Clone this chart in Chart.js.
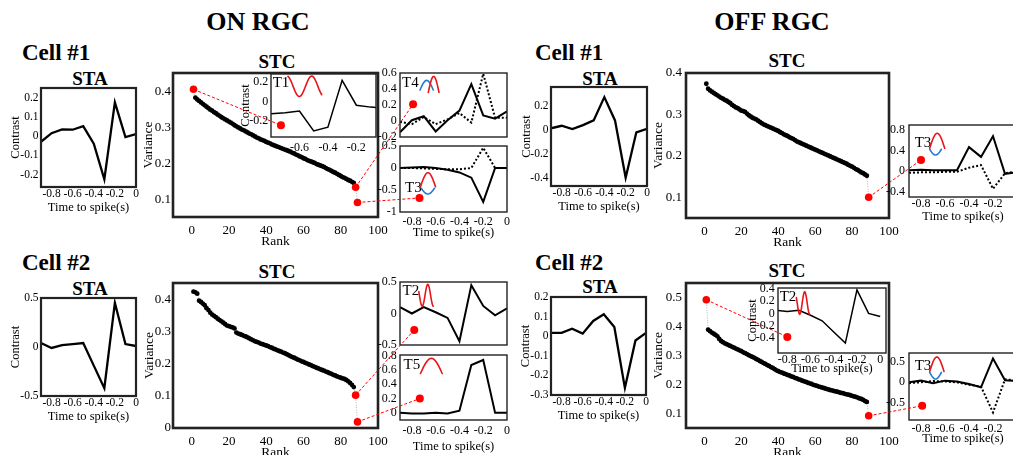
<!DOCTYPE html>
<html>
<head>
<meta charset="utf-8">
<script src="https://cdn.jsdelivr.net/npm/chart.js@4.4.1/dist/chart.umd.min.js"></script>
<style>
html, body { margin: 0; padding: 0; overflow: hidden; background: #fff; }
body { position: relative; width: 1013px; height: 455px; font-family: "Liberation Serif", "Times New Roman", serif; }
canvas { position: absolute; }
.lbl { position: absolute; transform: translate(-50%, -50%); line-height: 1; white-space: nowrap; color: #000; font-weight: bold; }
.lft { transform: translate(0, -50%); }
</style>
</head>
<body>
<div class="lbl" style="left:258px;top:22px;font-size:26px">ON RGC</div>
<div class="lbl" style="left:772px;top:22px;font-size:26px">OFF RGC</div>
<div class="lbl lft" style="left:22px;top:52px;font-size:23px">Cell #1</div>
<div class="lbl lft" style="left:535px;top:52px;font-size:23px">Cell #1</div>
<div class="lbl lft" style="left:22px;top:262px;font-size:23px">Cell #2</div>
<div class="lbl lft" style="left:535px;top:262px;font-size:23px">Cell #2</div>
<div class="lbl" style="left:90px;top:78px;font-size:19px">STA</div>
<div class="lbl" style="left:600px;top:78px;font-size:19px">STA</div>
<div class="lbl" style="left:90px;top:288px;font-size:19px">STA</div>
<div class="lbl" style="left:600px;top:286px;font-size:19px">STA</div>
<div class="lbl" style="left:277px;top:61px;font-size:19px">STC</div>
<div class="lbl" style="left:787px;top:60px;font-size:19px">STC</div>
<div class="lbl" style="left:277px;top:271px;font-size:19px">STC</div>
<div class="lbl" style="left:787px;top:270px;font-size:19px">STC</div>
<script>
// STA / STC figure for ON and OFF RGCs

const timeBins = [-0.9, -0.8, -0.7, -0.6, -0.5, -0.4, -0.3, -0.2, -0.1, 0]
const timeTicks = [-0.8, -0.6, -0.4, -0.2, 0]
const rankTicks = [0, 20, 40, 60, 80, 100]

// ON cell #1
const onCell1Sta = [-0.03, 0.015, 0.035, 0.033, 0.052, -0.04, -0.225, 0.175, -0.005, 0.01]
const onCell1FirstRank = 2
const onCell1Variance = [
  0.382, 0.377, 0.373, 0.369, 0.365, 0.361, 0.357, 0.353, 0.349, 0.346,
  0.342, 0.339, 0.335, 0.332, 0.328, 0.325, 0.322, 0.319, 0.316, 0.313,
  0.310, 0.306, 0.303, 0.300, 0.297, 0.294, 0.292, 0.289, 0.286, 0.283,
  0.281, 0.278, 0.275, 0.272, 0.270, 0.267, 0.265, 0.263, 0.260, 0.258,
  0.256, 0.253, 0.251, 0.249, 0.247, 0.245, 0.243, 0.241, 0.239, 0.237,
  0.235, 0.233, 0.230, 0.228, 0.225, 0.223, 0.220, 0.218, 0.215, 0.213,
  0.210, 0.208, 0.206, 0.204, 0.202, 0.199, 0.197, 0.195, 0.193, 0.191,
  0.188, 0.185, 0.183, 0.180, 0.177, 0.175, 0.172, 0.169, 0.166, 0.163,
  0.161, 0.158, 0.155, 0.153, 0.150, 0.147,
]
const onCell1RedRanks = [1, 88, 89]
const onCell1RedVariance = [0.405, 0.135, 0.093]
const t1Times = [-0.8, -0.7, -0.6, -0.5, -0.4, -0.3, -0.2, -0.1, 0]
const t1Values = [-0.13, -0.12, -0.10, -0.31, -0.27, 0.22, -0.04, -0.06, -0.07]
const t1Marker = [-0.73, -0.25]
const t4Solid = [-0.14, 0.01, 0.06, -0.13, 0.01, 0.13, 0.46, 0.07, 0.03, 0.12]
const t4Dotted = [-0.01, -0.04, 0.05, -0.04, 0.02, 0.10, -0.02, 0.59, 0.04, 0.04]
const t4Marker = [-0.79, 0.21]
const onT3Solid = [0.0, 0.01, 0.02, 0.0, -0.04, -0.1, -0.22, -0.77, 0.0, 0.0]
const onT3Dotted = [0.0, 0.0, -0.01, -0.02, -0.03, -0.03, 0.0, 0.46, 0.0, 0.0]
const onT3Marker = [-0.736, -0.68]

// OFF cell #1
const offCell1Sta = [0.014, 0.035, 0.008, 0.04, 0.08, 0.275, 0.08, -0.4, -0.02, 0.01]
const offCell1FirstRank = 1
const offCell1Variance = [
  0.374, 0.362, 0.358, 0.355, 0.352, 0.349, 0.346, 0.343, 0.340, 0.338,
  0.335, 0.333, 0.330, 0.327, 0.323, 0.320, 0.317, 0.315, 0.312, 0.309,
  0.308, 0.306, 0.302, 0.298, 0.295, 0.292, 0.290, 0.288, 0.285, 0.282,
  0.279, 0.276, 0.274, 0.272, 0.270, 0.268, 0.266, 0.264, 0.262, 0.260,
  0.257, 0.255, 0.252, 0.250, 0.248, 0.245, 0.243, 0.241, 0.238, 0.235,
  0.233, 0.231, 0.229, 0.227, 0.225, 0.223, 0.221, 0.219, 0.217, 0.215,
  0.213, 0.211, 0.209, 0.207, 0.205, 0.203, 0.201, 0.199, 0.197, 0.195,
  0.193, 0.191, 0.189, 0.187, 0.185, 0.183, 0.181, 0.178, 0.176, 0.174,
  0.171, 0.168, 0.166, 0.163, 0.160, 0.158, 0.155, 0.152,
]
const offCell1RedRanks = [89]
const offCell1RedVariance = [0.100]
const offT3aSolid = [0.02, 0.03, 0.02, 0.02, 0.02, 0.47, 0.28, 0.68, -0.05, -0.02]
const offT3aDotted = [-0.03, -0.02, -0.02, -0.01, -0.01, 0.07, 0.12, -0.34, -0.04, 0.0]
const offT3aMarker = [-0.8, 0.22]

// ON cell #2
const onCell2Sta = [0.04, -0.01, 0.02, 0.03, 0.04, -0.19, -0.42, 0.45, 0.03, 0.01]
const onCell2FirstRank = 1
const onCell2Variance = [
  0.423, 0.421, 0.417, 0.395, 0.391, 0.386, 0.381, 0.372, 0.366, 0.358,
  0.352, 0.348, 0.344, 0.339, 0.335, 0.331, 0.327, 0.322, 0.318, 0.316,
  0.314, 0.312, 0.309, 0.296, 0.293, 0.291, 0.289, 0.286, 0.284, 0.281,
  0.278, 0.275, 0.272, 0.269, 0.267, 0.265, 0.262, 0.260, 0.258, 0.256,
  0.254, 0.251, 0.249, 0.246, 0.244, 0.241, 0.239, 0.237, 0.234, 0.232,
  0.229, 0.226, 0.223, 0.220, 0.218, 0.215, 0.212, 0.210, 0.207, 0.205,
  0.202, 0.200, 0.197, 0.195, 0.192, 0.190, 0.187, 0.185, 0.182, 0.180,
  0.178, 0.175, 0.173, 0.170, 0.168, 0.165, 0.163, 0.160, 0.158, 0.156,
  0.154, 0.152, 0.149, 0.145, 0.140, 0.134, 0.127,
]
const onCell2RedRanks = [88, 89]
const onCell2RedVariance = [0.102, 0.019]
const t2Values = [0.1, 0.0, 0.1, 0.02, -0.07, -0.44, 0.45, 0.12, -0.03, 0.08]
const t2Marker = [-0.78, -0.26]
const t5Values = [0.0, -0.01, -0.01, 0.0, -0.01, 0.03, 0.67, 0.74, 0.0, 0.0]
const t5Marker = [-0.733, 0.2]

// OFF cell #2
const offCell2Sta = [0.017, 0.017, 0.038, 0.013, 0.078, 0.112, 0.047, -0.264, -0.022, 0.017]
const offCell2FirstRank = 2
const offCell2Variance = [
  0.389, 0.384, 0.379, 0.375, 0.371, 0.366, 0.357, 0.350, 0.346, 0.342,
  0.339, 0.336, 0.333, 0.330, 0.327, 0.324, 0.321, 0.318, 0.315, 0.311,
  0.308, 0.305, 0.301, 0.298, 0.295, 0.292, 0.288, 0.285, 0.281, 0.278,
  0.274, 0.271, 0.267, 0.264, 0.260, 0.257, 0.253, 0.249, 0.246, 0.243,
  0.241, 0.238, 0.236, 0.233, 0.231, 0.228, 0.226, 0.223, 0.221, 0.218,
  0.216, 0.213, 0.211, 0.209, 0.206, 0.204, 0.202, 0.199, 0.197, 0.195,
  0.193, 0.191, 0.189, 0.187, 0.185, 0.183, 0.181, 0.180, 0.178, 0.176,
  0.175, 0.173, 0.171, 0.170, 0.168, 0.166, 0.165, 0.163, 0.161, 0.159,
  0.157, 0.155, 0.152, 0.150, 0.147, 0.143, 0.140,
]
const offCell2RedRanks = [1, 89]
const offCell2RedVariance = [0.492, 0.092]
const offT2Values = [0.05, 0.03, 0.05, -0.03, -0.12, -0.3, -0.48, 0.38, 0.0, -0.05]
const offT2Marker = [-0.8, -0.38]
const offT3bSolid = [0.0, 0.04, -0.02, 0.04, 0.02, -0.04, -0.12, 0.57, 0.05, 0.03]
const offT3bDotted = [-0.02, 0.0, 0.03, 0.02, 0.0, -0.06, -0.1, -0.72, 0.07, 0.05]
const offT3bMarker = [-0.79, -0.56]

const SERIF = '"Liberation Serif", "Times New Roman", serif'
const RED = "#ff0000"
const ICON_RED = "#e8161b"
const ICON_BLUE = "#1e7ad0"

Chart.defaults.font.family = SERIF
Chart.defaults.color = "#000"

function arch(color, x0, x1, base, tip) {
  return { kind: "arch", color, x0, x1, base, tip }
}
function wave(color, x0, x1, mid, amp, peak, period) {
  return { kind: "wave", color, x0, x1, mid, amp, peak, period }
}

function drawDeco(ctx, ox, oy, d) {
  ctx.fillStyle = "#000"
  ctx.font = "15px " + SERIF
  ctx.textBaseline = "middle"
  ctx.textAlign = "left"
  ctx.fillText(d.label, ox + d.lx, oy + d.ly)
  ctx.lineWidth = 1.6
  ctx.lineJoin = "round"
  ctx.lineCap = "round"
  ctx.setLineDash([])
  d.shapes.forEach((s) => {
    ctx.strokeStyle = s.color
    ctx.beginPath()
    for (let i = 0; i <= 24; i++) {
      const t = i / 24
      const dx = s.x0 + (s.x1 - s.x0) * t
      let dy
      if (s.kind === "arch") dy = s.base + (s.tip - s.base) * Math.sin(Math.PI * t)
      else dy = s.mid - s.amp * Math.cos((2 * Math.PI * (dx - s.peak)) / s.period)
      if (i) ctx.lineTo(ox + dx, oy + dy)
      else ctx.moveTo(ox + dx, oy + dy)
    }
    ctx.stroke()
  })
}

// white plot background, closed frame and the Tn badge
const panelBox = {
  id: "panelBox",
  beforeDraw(chart) {
    const a = chart.chartArea
    if (!chart.canvas._fill) return
    chart.ctx.save()
    chart.ctx.fillStyle = "#fff"
    chart.ctx.fillRect(a.left, a.top, a.right - a.left, a.bottom - a.top)
    chart.ctx.restore()
  },
  afterDraw(chart) {
    const a = chart.chartArea
    const ctx = chart.ctx
    ctx.save()
    ctx.strokeStyle = "#222"
    ctx.lineWidth = chart.canvas._lw
    ctx.strokeRect(a.left, a.top, a.right - a.left, a.bottom - a.top)
    if (chart.canvas._deco) drawDeco(ctx, a.left, a.top, chart.canvas._deco)
    ctx.restore()
  },
}

function axisCfg(a, horizontal) {
  return {
    type: "linear",
    min: a.min,
    max: a.max,
    grid: { display: false, drawTicks: false },
    border: { display: false },
    ticks: {
      display: !!a.ticks,
      padding: a.pad || 0,
      color: "#000",
      font: { family: SERIF, size: a.size || 12 },
      maxRotation: 0,
      autoSkip: false,
      callback: (v) => String(v),
    },
    title: {
      display: !!a.title,
      text: a.title || "",
      color: "#000",
      font: { family: SERIF, size: a.titleSize || 12.5 },
      padding: 0,
    },
    afterBuildTicks: (s) => {
      s.ticks = (a.ticks || [a.min, a.max]).map((v) => ({ value: v }))
    },
    afterFit: (s) => {
      if (horizontal) s.height = a.space
      else s.width = a.space
      s.paddingLeft = 0
      s.paddingRight = 0
      s.paddingTop = 0
      s.paddingBottom = 0
    },
  }
}

function panel(p) {
  const cv = document.createElement("canvas")
  const padT = 8
  const padR = p.padR || 6
  const w = p.y.space + p.box.w + padR
  const h = padT + p.box.h + p.x.space
  cv.width = w
  cv.height = h
  cv.style.width = w + "px"
  cv.style.height = h + "px"
  cv.style.left = p.box.x - p.y.space + "px"
  cv.style.top = p.box.y - padT + "px"
  cv._fill = !!p.fill
  cv._lw = p.lw || 2
  cv._deco = p.deco
  document.body.appendChild(cv)
  return new Chart(cv, {
    type: "scatter",
    data: { datasets: p.datasets },
    options: {
      responsive: false,
      animation: false,
      devicePixelRatio: 1,
      events: [],
      layout: { padding: { left: 0, top: padT, right: padR, bottom: 0 } },
      plugins: { legend: { display: false }, tooltip: { enabled: false } },
      scales: { x: axisCfg(p.x, true), y: axisCfg(p.y, false) },
    },
    plugins: [panelBox],
  })
}

function curve(xs, ys, dotted, width) {
  return {
    data: xs.map((x, i) => ({ x, y: ys[i] })),
    showLine: true,
    pointRadius: 0,
    borderColor: "#000",
    borderWidth: width || 2,
    borderDash: dotted ? [2, 2] : [],
  }
}

function marker(m) {
  return { data: [{ x: m[0], y: m[1] }], pointRadius: 4, backgroundColor: RED, borderWidth: 0 }
}

function stcSets(redRanks, redVar, firstRank, variance) {
  const black = variance.map((v, i) => ({ x: firstRank + i, y: v }))
  const red = redRanks.map((r, i) => ({ x: r, y: redVar[i] }))
  const all = black.concat(red).sort((a, b) => a.x - b.x)
  return [
    { data: red, pointRadius: 3.8, backgroundColor: RED, borderWidth: 0 },
    { data: black, pointRadius: 2.4, backgroundColor: "#000", borderWidth: 0 },
    { data: all, showLine: true, pointRadius: 0, borderColor: "#b4b4b4", borderWidth: 1, borderDash: [1, 1.5] },
  ]
}

function staPanel(box, ys, yMin, yMax, yTicks, ySpace) {
  return panel({
    box,
    lw: 2.2,
    x: { min: -0.9, max: 0, ticks: timeTicks, pad: 0.5, space: 28, size: 11.5, title: "Time to spike(s)" },
    y: { min: yMin, max: yMax, ticks: yTicks, pad: 2.5, space: ySpace, size: 11.5, title: "Contrast" },
    datasets: [curve(timeBins, ys, false, 2.3)],
  })
}

function stcPanel(box, sets, yMin, yMax, yTicks, ySpace, yPad) {
  return panel({
    box,
    lw: 2.6,
    padR: 16,
    x: { min: -10, max: 100, ticks: rankTicks, pad: 6, space: 33, size: 13, title: "Rank", titleSize: 13.5 },
    y: { min: yMin, max: yMax, ticks: yTicks, pad: yPad, space: ySpace, size: 13, title: "Variance", titleSize: 13.5 },
    datasets: sets,
  })
}

// STA panels
staPanel({ x: 41, y: 88, w: 95, h: 99 }, onCell1Sta, -0.265, 0.25, [-0.2, -0.1, 0, 0.1, 0.2], 33)
staPanel({ x: 551, y: 87, w: 96, h: 99 }, offCell1Sta, -0.47, 0.36, [-0.4, -0.2, 0, 0.2], 32)
staPanel({ x: 41, y: 298, w: 95, h: 98 }, onCell2Sta, -0.5, 0.5, [-0.5, 0, 0.5], 33)
staPanel({ x: 551, y: 297, w: 95, h: 98 }, offCell2Sta, -0.3, 0.2, [-0.3, -0.2, -0.1, 0, 0.1, 0.2], 33)

// STC panels
const onStc1 = stcPanel({ x: 173, y: 73, w: 205, h: 144 },
  stcSets(onCell1RedRanks, onCell1RedVariance, onCell1FirstRank, onCell1Variance), 0.053, 0.45, [0.1, 0.2, 0.3, 0.4], 33, 2)
const offStc1 = stcPanel({ x: 686, y: 73, w: 203, h: 145 },
  stcSets(offCell1RedRanks, offCell1RedVariance, offCell1FirstRank, offCell1Variance), 0.05, 0.4, [0.1, 0.2, 0.3, 0.4], 36, 4)
const onStc2 = stcPanel({ x: 173, y: 283, w: 205, h: 145 },
  stcSets(onCell2RedRanks, onCell2RedVariance, onCell2FirstRank, onCell2Variance), 0, 0.45, [0, 0.1, 0.2, 0.3, 0.4], 32, 2)
const offStc2 = stcPanel({ x: 686, y: 283, w: 203, h: 145 },
  stcSets(offCell2RedRanks, offCell2RedVariance, offCell2FirstRank, offCell2Variance), 0.05, 0.55, [0.1, 0.2, 0.3, 0.4, 0.5], 36, 4)

// eigenvector insets
const t1 = panel({
  box: { x: 271, y: 74, w: 107, h: 63 }, fill: true, lw: 1.4, padR: 2,
  x: { min: -0.8, max: -0.062, ticks: [-0.6, -0.4, -0.2], pad: 3.8, space: 20 },
  y: { min: -0.373, max: 0.287, ticks: [-0.2, 0, 0.2], pad: 2.7, space: 33, title: "Contrast" },
  datasets: [marker(t1Marker), curve(t1Times, t1Values, false, 1.5)],
  deco: { label: "T1", lx: 1.7, ly: 9.3, shapes: [wave(ICON_RED, 17, 50.7, 12.3, 10.3, 40.7, 24.8)] },
})
const t4 = panel({
  box: { x: 400, y: 73, w: 107, h: 64 }, fill: true, lw: 1.4,
  x: { min: -0.9, max: 0, space: 4 },
  y: { min: -0.2, max: 0.6, ticks: [-0.2, 0, 0.2, 0.4, 0.6], pad: 3.3, space: 28 },
  datasets: [marker(t4Marker), curve(timeBins, t4Solid), curve(timeBins, t4Dotted, true)],
  deco: { label: "T4", lx: 2, ly: 10, shapes: [arch(ICON_BLUE, 20, 33.3, 17, 7.4), arch(ICON_RED, 28.3, 39, 19.4, 3.4)] },
})
const onT3 = panel({
  box: { x: 400, y: 146, w: 107, h: 66 }, fill: true, lw: 1.4,
  x: { min: -0.9, max: 0, ticks: timeTicks, pad: 2.8, space: 28, title: "Time to spike(s)" },
  y: { min: -1, max: 0.5, ticks: [-1, -0.5, 0, 0.5], pad: 3.3, space: 28 },
  datasets: [marker(onT3Marker), curve(timeBins, onT3Solid), curve(timeBins, onT3Dotted, true)],
  deco: { label: "T3", lx: 5, ly: 42, shapes: [arch(ICON_RED, 20.5, 35.5, 40.7, 26.7), arch(ICON_BLUE, 21.2, 34.5, 42.3, 48)] },
})
const offT3a = panel({
  box: { x: 909, y: 125, w: 108, h: 72 }, fill: true, lw: 1.4,
  x: { min: -0.9, max: 0, ticks: timeTicks, pad: 0, space: 27, title: "Time to spike(s)" },
  y: { min: -0.5, max: 0.9, ticks: [-0.4, 0, 0.4, 0.8], pad: 4, space: 28 },
  datasets: [marker(offT3aMarker), curve(timeBins, offT3aSolid), curve(timeBins, offT3aDotted, true)],
  deco: { label: "T3", lx: 5.7, ly: 18, shapes: [arch(ICON_RED, 20.7, 35.7, 23.3, 8.3), arch(ICON_BLUE, 20.7, 32.4, 24.3, 30)] },
})
const t2 = panel({
  box: { x: 400, y: 282, w: 107, h: 63 }, fill: true, lw: 1.4,
  x: { min: -0.9, max: 0, space: 4 },
  y: { min: -0.5, max: 0.5, ticks: [-0.5, 0, 0.5], pad: 3.3, space: 28 },
  datasets: [marker(t2Marker), curve(timeBins, t2Values)],
  deco: { label: "T2", lx: 2.5, ly: 9, shapes: [wave(ICON_RED, 18.8, 33.2, 13.3, 11, 27.8, 11.2)] },
})
const t5 = panel({
  box: { x: 400, y: 355, w: 107, h: 65 }, fill: true, lw: 1.4,
  x: { min: -0.9, max: 0, ticks: timeTicks, pad: 3.8, space: 34, title: "Time to spike(s)" },
  y: { min: -0.1, max: 0.81, ticks: [0, 0.2, 0.4, 0.6, 0.8], pad: 3.3, space: 28 },
  datasets: [marker(t5Marker), curve(timeBins, t5Values)],
  deco: { label: "T5", lx: 3.5, ly: 10, shapes: [arch(ICON_RED, 20.5, 42.2, 18.5, 3.3)] },
})
const offT2 = panel({
  box: { x: 778, y: 288, w: 110, h: 65 }, fill: true, lw: 1.4, padR: 2,
  x: { min: -0.88, max: 0.05, ticks: timeTicks, pad: 0, space: 23, title: "Time to spike(s)" },
  y: { min: -0.64, max: 0.41, ticks: [-0.4, -0.2, 0, 0.2, 0.4], pad: 3.3, space: 33, title: "Contrast" },
  datasets: [marker(offT2Marker), curve(timeBins, offT2Values, false, 1.5)],
  deco: { label: "T2", lx: 1.7, ly: 9.2, shapes: [wave(ICON_RED, 18.4, 31.7, 15, 11.3, 26.7, 10)] },
})
const offT3b = panel({
  box: { x: 909, y: 353, w: 108, h: 67 }, fill: true, lw: 1.4,
  x: { min: -0.9, max: 0, ticks: timeTicks, pad: 1.8, space: 26, title: "Time to spike(s)" },
  y: { min: -0.9, max: 0.7, ticks: [-0.5, 0, 0.5], pad: 4, space: 28 },
  datasets: [marker(offT3bMarker), curve(timeBins, offT3bSolid), curve(timeBins, offT3bDotted, true)],
  deco: { label: "T3", lx: 5.7, ly: 13.4, shapes: [arch(ICON_RED, 20.7, 35, 18.4, 4), arch(ICON_BLUE, 20.7, 32.4, 19.4, 26)] },
})

// dashed red connectors from eigenvalue dots to their inset markers
function pagePoint(chart, x, y) {
  const c = chart.canvas
  return [c.offsetLeft + chart.scales.x.getPixelForValue(x), c.offsetTop + chart.scales.y.getPixelForValue(y)]
}

const links = [
  [onStc1, onCell1RedRanks[0], onCell1RedVariance[0], t1, t1Marker],
  [onStc1, onCell1RedRanks[1], onCell1RedVariance[1], t4, t4Marker],
  [onStc1, onCell1RedRanks[2], onCell1RedVariance[2], onT3, onT3Marker],
  [offStc1, offCell1RedRanks[0], offCell1RedVariance[0], offT3a, offT3aMarker],
  [onStc2, onCell2RedRanks[0], onCell2RedVariance[0], t2, t2Marker],
  [onStc2, onCell2RedRanks[1], onCell2RedVariance[1], t5, t5Marker],
  [offStc2, offCell2RedRanks[0], offCell2RedVariance[0], offT2, offT2Marker],
  [offStc2, offCell2RedRanks[1], offCell2RedVariance[1], offT3b, offT3bMarker],
]

const overlay = document.createElement("canvas")
overlay.width = 1013
overlay.height = 455
overlay.style.left = "0px"
overlay.style.top = "0px"
document.body.appendChild(overlay)
const octx = overlay.getContext("2d")
octx.strokeStyle = RED
octx.lineWidth = 1
octx.setLineDash([3, 2])
links.forEach(([a, rank, variance, b, m]) => {
  const p = pagePoint(a, rank, variance)
  const q = pagePoint(b, m[0], m[1])
  octx.beginPath()
  octx.moveTo(p[0], p[1])
  octx.lineTo(q[0], q[1])
  octx.stroke()
})
</script>
</body>
</html>
